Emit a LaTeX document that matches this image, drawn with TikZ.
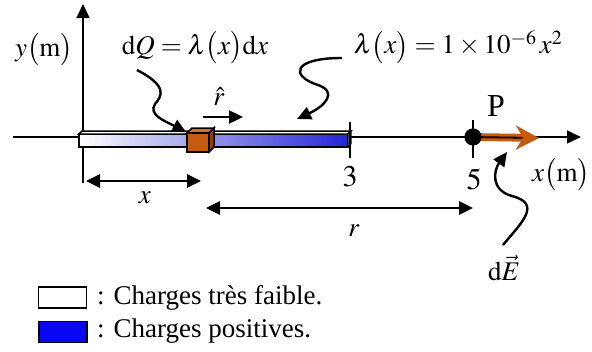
\documentclass[tikz,border=0pt]{standalone}
\usepackage{mathptmx}
\usepackage{fontspec}
\setmainfont{Liberation Serif}
\usetikzlibrary{arrows.meta}
\definecolor{rodblue}{RGB}{36,36,214}
\definecolor{legblue}{RGB}{8,8,245}
\definecolor{cubefront}{RGB}{197,90,17}
\definecolor{cubetop}{RGB}{214,110,40}
\definecolor{cubeside}{RGB}{150,62,10}

\begin{document}
\begin{tikzpicture}[x=1pt,y=-1pt,>={Triangle[length=14pt,width=13pt]},
  every node/.style={font=\fontsize{27}{32}\selectfont,inner sep=0pt},
  big/.style={font=\fontsize{32}{38}\selectfont},
  axis/.style={line width=1.5pt},
  dimline/.style={<->,line width=2.6pt},
  squiggle/.style={->,line width=2.4pt},
  legbox/.style={draw,line width=1.5pt,minimum width=48pt,minimum height=21pt}]
  \useasboundingbox (0,0) rectangle (592,351);
  % axes
  \coordinate (xstart) at (13,137);
  \coordinate (xend) at (581,137);
  \coordinate (ystart) at (83,183);
  \coordinate (yend) at (83,4);
  \draw[axis,->] (xstart) -- (xend);
  \draw[axis,->] (ystart) -- (yend);
  \node (ylab) at (44,50) {$y\big(\mathrm{m}\big)$};
  \node (xlab) at (561,175) {$x\big(\mathrm{m}\big)$};
  % field vector at P
  \node[circle,fill,minimum size=17pt] (P) at (473,137) {};
  \coordinate (Etip) at (539,138);
  \draw[draw=cubefront,double=black,double distance=1.8pt,line width=3pt,
    -{Stealth[length=23pt,width=24pt,inset=7pt,fill=cubefront]}] (P.center) -- (Etip);
  \node[circle,fill,minimum size=17pt] at (P) {};
  \node[big] (Plab) at (496,106) {P};
  % rod
  \shade[left color=white,right color=rodblue] (79,134) rectangle (348,147);
  \draw[line width=1.5pt] (79,134) rectangle (348,147);
  \draw[line width=1.5pt,fill=white] (79,134) -- (82,131) -- (351,131) -- (348,134) -- cycle;
  \draw[line width=1pt,fill=gray!25] (348,134) -- (351,131) -- (351,144) -- (348,147) -- cycle;
  % charge element dQ
  \draw[line width=1.5pt,fill=cubetop] (187,133) -- (192,128) -- (214,128) -- (209,133) -- cycle;
  \draw[line width=1.5pt,fill=cubeside] (209,133) -- (214,128) -- (214,147) -- (209,152) -- cycle;
  \node[draw,line width=1.5pt,fill=cubefront,minimum width=22pt,minimum height=19pt] (dQ) at (198,142.5) {};
  % ticks
  \draw[axis] (350,122) -- (350,158);
  \draw[axis] (473,120) -- (473,158);
  \node[font=\fontsize{30}{36}\selectfont] (lab3) at (350,177) {$3$};
  \node[font=\fontsize{30}{36}\selectfont] (lab5) at (474,179) {$5$};
  % labels and pointers
  \node (dQlab) at (195,48) {$\mathrm{d}Q=\lambda\big(x\big)\mathrm{d}x$};
  \node (lamlab) at (458,47) {$\lambda\big(x\big)=1\times10^{-6}\,x^{2}$};
  \node (dElab) at (504,268) {$\mathrm{d}\vec{E}$};
  \draw[squiggle] (137,70) .. controls (168,86) and (162,96) .. (155,104)
    .. controls (148,115) and (165,121) .. (dQ.north west);
  \draw[squiggle] (342,58) .. controls (292,58) and (290,76) .. (318,85)
    .. controls (338,92) and (325,106) .. (297,119);
  \draw[squiggle] (503,245) .. controls (522,222) and (542,204) .. (512,196)
    .. controls (490,190) and (494,170) .. (507,152);
  \coordinate (rhatA) at (203,117);
  \coordinate (rhatB) at (243,117);
  \draw[squiggle] (rhatA) -- (rhatB);
  \node (rhat) at (219,96) {$\hat{r}$};
  % distances
  \coordinate (xA) at (86,181);
  \coordinate (xB) at (201,181);
  \draw[dimline] (xA) -- (xB);
  \node (xdist) at (145,198) {$x$};
  \coordinate (rA) at (206,208);
  \coordinate (rB) at (473,208);
  \draw[dimline] (rA) -- (rB);
  \node (rdist) at (354,231) {$r$};
  % legend
  \node[legbox,fill=white] (box1) at (62.5,297.5) {};
  \node[legbox,fill=legblue] (box2) at (63,332) {};
  \node[anchor=base west] (leg1) at (97,304) {: Charges très faible.};
  \node[anchor=base west] (leg2) at (97,337) {: Charges positives.};
\end{tikzpicture}
\end{document}
